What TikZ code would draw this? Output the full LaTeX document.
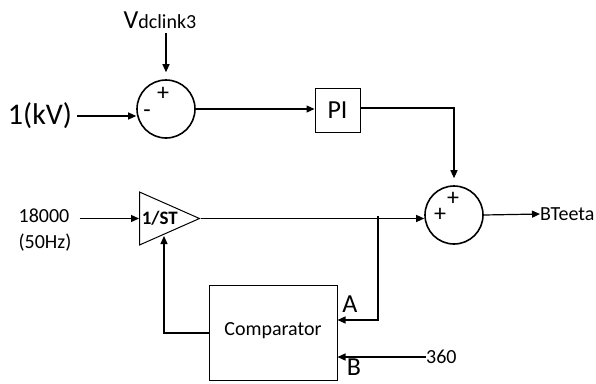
\documentclass[tikz,border=0pt]{standalone}
\usepackage{fontspec}
\setmainfont{Carlito}
\usepackage{tikz}
\usetikzlibrary{arrows.meta,shapes.geometric}

\begin{document}
\begin{tikzpicture}[
    x=1pt, y=-1pt,
    sumcircle/.style={circle, draw=black, line width=1.6pt, minimum size=58pt, inner sep=0pt},
    block/.style={rectangle, draw=black, line width=1pt, inner sep=0pt},
    gain/.style={isosceles triangle, draw=black, line width=1pt, inner sep=0pt,
                 isosceles triangle stretches, minimum width=53pt, minimum height=60pt,
                 font=\fontsize{19}{21}\selectfont\bfseries},
    lbl/.style={inner sep=0pt, font=\fontsize{20}{26}\selectfont},
    sign/.style={inner sep=0pt, font=\fontsize{24}{24}\selectfont},
    connector/.style={line width=1.2pt, draw=black},
    arrowline/.style={connector, -{Triangle[length=8pt,width=7pt]}}
]
    \useasboundingbox (0,0) rectangle (596,383);

    % Upper loop
    \node[lbl, anchor=base] (vdc) at (160,28) {\fontsize{26}{26}\selectfont V\fontsize{20}{20}\selectfont dclink3};
    \node[lbl, font=\fontsize{30}{30}\selectfont] (kv) at (40,116) {1(kV)};
    \node[sumcircle] (sum1) at (166,109) {};
    \node[sign] (sum1p) at (163,94) {+};
    \node[sign] (sum1m) at (147,114) {-};
    \node[block, minimum width=45pt, minimum height=44pt, font=\fontsize{26}{26}\selectfont] (pi) at (337.5,110) {PI};

    % Lower loop
    \node[lbl, align=left] (f0) at (45,230) {18000\\(50Hz)};
    \node[gain, anchor=lower side] (integ) at (139,218.5) {1/ST};
    \node[sumcircle] (sum2) at (454,215) {};
    \node[sign] (sum2a) at (453,199) {+};
    \node[sign] (sum2b) at (440,215) {+};
    \node[lbl, anchor=west] (bteeta) at (540,214) {BTeeta};
    \node[block, minimum width=128pt, minimum height=95pt, lbl] (comp) at (273,332.5) {\raisebox{6pt}{Comparator}};
    \node[lbl, font=\fontsize{26}{26}\selectfont] (pa) at (350,304) {A};
    \node[lbl, font=\fontsize{26}{26}\selectfont] (pb) at (354,367) {B};
    \node[lbl, anchor=west] (n360) at (426,357) {360};

    \coordinate (br) at (378,216);
    \coordinate (fb) at (164,333);
    \coordinate (fbtop) at (164,236);

    % Connections
    \draw[arrowline, shorten <=5pt, shorten >=7pt] (vdc.south -| sum1.north) -- (sum1.north);
    \draw[arrowline, shorten <=5pt] (kv.east) -- (kv.east -| sum1.west);
    \draw[arrowline] (sum1.east) -- (sum1.east -| pi.west);
    \draw[arrowline, shorten >=7pt] ([yshift=2pt]pi.east) -| (sum2.north);
    \draw[arrowline, shorten <=8pt] (f0.east |- integ.apex) -- (integ.lower side);
    \draw[arrowline] (integ.apex) -- (integ.apex -| sum2.west);
    \draw[arrowline] (sum2.east) -- (bteeta.west);
    \draw[arrowline] (br) |- ([yshift=12.5pt]comp.east);
    \draw[arrowline] (n360.west) -- ([yshift=-24.5pt]comp.east);
    \draw[arrowline] (comp.west |- fb) -- (fb) -- (fbtop);
\end{tikzpicture}
\end{document}
